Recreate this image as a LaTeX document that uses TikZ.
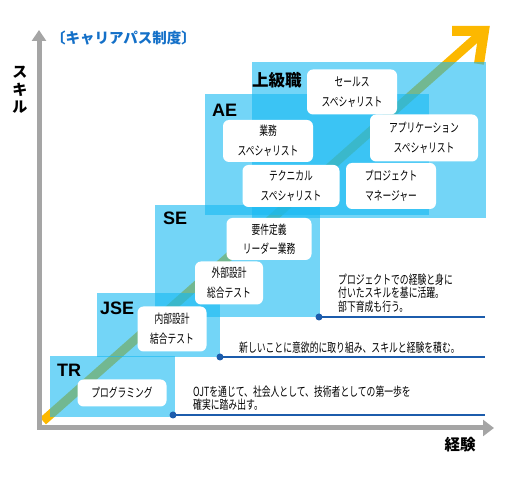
\documentclass[tikz,border=0pt]{standalone}
\usepackage{fontspec}
\setmainfont{Liberation Sans}
\newfontfamily\jp[FakeStretch=0.7]{Noto Sans CJK JP}
\newfontfamily\jpb{Noto Sans CJK JP}
\usetikzlibrary{arrows.meta,calc}

\definecolor{stepblue}{RGB}{22,185,242}
\definecolor{growthorange}{RGB}{252,184,0}
\definecolor{lineblue}{RGB}{28,92,172}
\definecolor{axisgray}{RGB}{165,165,165}
\definecolor{titleblue}{RGB}{20,112,200}

\begin{document}
\begin{tikzpicture}[x=1pt,y=-1pt,
  stepbox/.style={fill=stepblue,fill opacity=.6},
  steplabel/.style={anchor=west,inner sep=0pt,font=\bfseries\fontsize{18}{18}\selectfont},
  job/.style={fill=white,rounded corners=6pt,align=center,inner sep=0pt,font=\jp\fontsize{12.5}{19.5}\selectfont},
  note/.style={anchor=west,align=left,inner sep=0pt,font=\jp\fontsize{12.6}{13.3}\selectfont},
  noteline/.style={draw=lineblue,line width=2pt},
  notedot/.style={circle,fill=lineblue,inner sep=0pt,minimum size=7pt}]
%\draw[help lines] (0,0) grid[step=50] (507,481);
\useasboundingbox (0,0) rectangle (507,481);

% growth arrow, under the steps
\coordinate (tail) at (43,421);
\coordinate (tip) at (484,31);
\draw[growthorange,line width=9pt] (tail) -- (tip);
\draw[growthorange,line width=10pt,line join=miter] ($(tip)+(-32,0)$) -- (tip) -- ($(tip)+(-5,33)$);

% steps
\fill[stepbox] (50,356) rectangle (175,417);
\fill[stepbox] (97,293) rectangle (220,357);
\fill[stepbox] (155,205) rectangle (320,317);
\fill[stepbox] (205,94) rectangle (429,215);
\fill[stepbox] (252,62) rectangle (486,218);

\node[steplabel] (tr) at (57,370) {TR};
\node[steplabel] (jse) at (100,308) {JSE};
\node[steplabel] (se) at (163,218) {SE};
\node[steplabel] (ae) at (212,110) {AE};
\node[anchor=west,inner sep=0pt,font=\jpb\bfseries\fontsize{16.5}{16}\selectfont] (senior) at (252,80) {上級職};

% axes
\coordinate (origin) at (39,428);
\coordinate (ytip) at (39,30);
\coordinate (xtip) at (494,428);
\draw[axisgray,line width=5pt,{Triangle[length=11pt,width=14pt]}-{Triangle[length=11pt,width=16pt]}] (ytip) -- (origin) -- (xtip);

\node[font=\jpb\bfseries\fontsize{14.5}{14}\selectfont,text=titleblue,anchor=west,inner sep=0pt] (title) at (51,38) {〔キャリアパス制度〕};
\node[font=\jpb\bfseries\fontsize{15}{17.5}\selectfont,align=center,inner sep=0pt] (skill) at (20,90) {ス\\キ\\ル};
\node[font=\jpb\bfseries\fontsize{15.5}{15}\selectfont,inner sep=0pt] (exp) at (460,445) {経験};

% job boxes
\node[job,minimum width=89pt,minimum height=27pt] (prog) at (122,393) {プログラミング};
\node[job,minimum width=69pt,minimum height=45pt] (inner) at (172,329) {内部設計\\結合テスト};
\node[job,minimum width=68pt,minimum height=43pt] (outer) at (229,283) {外部設計\\総合テスト};
\node[job,minimum width=85pt,minimum height=42pt] (req) at (269,239) {要件定義\\リーダー業務};
\node[job,minimum width=97pt,minimum height=42pt] (tech) at (291,186) {テクニカル\\スペシャリスト};
\node[job,minimum width=90pt,minimum height=42pt] (biz) at (268,141) {業務\\スペシャリスト};
\node[job,minimum width=90pt,minimum height=45pt] (sales) at (352,92) {セールス\\スペシャリスト};
\node[job,minimum width=108pt,minimum height=47pt] (app) at (424,138) {アプリケーション\\スペシャリスト};
\node[job,minimum width=90pt,minimum height=46pt] (pm) at (391,186) {プロジェクト\\マネージャー};

% notes
\coordinate (ojtdot) at (173,415);
\coordinate (ojtend) at (485,415);
\draw[noteline] (ojtdot) -- (ojtend);
\node[notedot] (ojtpin) at (ojtdot) {};
\node[note] (ojt) at (193,398) {OJTを通じて、社会人として、技術者としての第一歩を\\確実に踏み出す。};

\coordinate (newdot) at (220,357);
\coordinate (newend) at (485,357);
\draw[noteline] (newdot) -- (newend);
\node[notedot] (newpin) at (newdot) {};
\node[note] (new) at (239,348) {新しいことに意欲的に取り組み、スキルと経験を積む。};

\coordinate (pjdot) at (319,317);
\coordinate (pjend) at (485,317);
\draw[noteline] (pjdot) -- (pjend);
\node[notedot] (pjpin) at (pjdot) {};
\node[note] (pj) at (338,293) {プロジェクトでの経験と身に\\付いたスキルを基に活躍。\\部下育成も行う。};
\end{tikzpicture}
\end{document}
